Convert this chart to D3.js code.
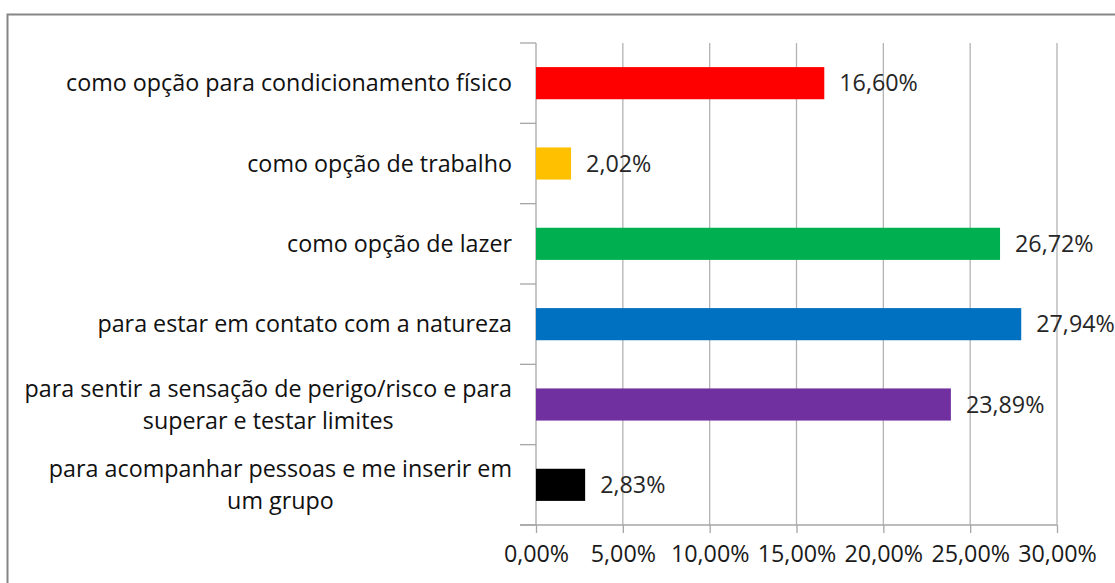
<!DOCTYPE html>
<html>
<head>
<meta charset="utf-8">
<script src="https://cdn.jsdelivr.net/npm/d3@7"></script>
<style>
  html, body { margin: 0; padding: 0; background: #fff; }
  svg { display: block; }
  text { font-family: "Open Sans", sans-serif; }
</style>
</head>
<body>
<svg width="1115" height="583"></svg>
<script>
// categories, top to bottom (lines split with "\n")
const categories = [
  "como opção para condicionamento físico",
  "como opção de trabalho",
  "como opção de lazer",
  "para estar em contato com a natureza",
  "para sentir a sensação de perigo/risco e para\nsuperar e testar limites",
  "para acompanhar pessoas e me inserir em\num grupo"
];
const values = [0.1660, 0.0202, 0.2672, 0.2794, 0.2389, 0.0283];
const colors = ["#ff0000", "#ffc000", "#00b050", "#0070c0", "#7030a0", "#000000"];
const tickValues = [0, 0.05, 0.10, 0.15, 0.20, 0.25, 0.30];

const svg = d3.select("svg");
const fmt = v => d3.format(".2f")(v * 100).replace(".", ",") + "%";
const fs = 23.3;

// outer chart frame (runs off the right/bottom of the picture)
svg.append("rect")
  .attr("x", 7.5).attr("y", 14.5).attr("width", 1200).attr("height", 700)
  .attr("fill", "none").attr("stroke", "#868686").attr("stroke-width", 2);

const x = d3.scaleLinear().domain([0, 0.30]).range([536, 1057]);
const y = d3.scaleBand().domain(categories).range([43, 525]).paddingInner(0.6).paddingOuter(0.3);
const step = y.step();

// vertical gridlines
svg.append("g").selectAll("line").data(tickValues.slice(1)).enter().append("line")
  .attr("x1", d => x(d)).attr("x2", d => x(d))
  .attr("y1", 43).attr("y2", 525)
  .attr("stroke", "#b3b3b3").attr("stroke-width", 1.3);

// x axis
const xAxis = svg.append("g").attr("transform", "translate(0,525)")
  .call(d3.axisBottom(x).tickValues(tickValues).tickFormat(fmt).tickSizeInner(8).tickSizeOuter(0).tickPadding(12));
xAxis.select(".domain").attr("stroke", "#a6a6a6").attr("stroke-width", 1.3).attr("d", "M520,0H1057");
xAxis.selectAll(".tick line").attr("stroke", "#a6a6a6").attr("stroke-width", 1.3);
xAxis.selectAll(".tick text").attr("font-size", fs).attr("fill", "#1a1a1a").attr("font-family", "Open Sans");

// category axis line + tick marks at band boundaries
svg.append("line").attr("x1", 536).attr("x2", 536).attr("y1", 43).attr("y2", 525)
  .attr("stroke", "#a6a6a6").attr("stroke-width", 1.3);
svg.append("g").selectAll("line").data(d3.range(categories.length + 1)).enter().append("line")
  .attr("x1", 520).attr("x2", 536)
  .attr("y1", i => 43 + i * step).attr("y2", i => 43 + i * step)
  .attr("stroke", "#a6a6a6").attr("stroke-width", 1.3);

// bars
svg.append("g").selectAll("rect").data(categories).enter().append("rect")
  .attr("x", x(0)).attr("y", d => y(d))
  .attr("width", (d, i) => x(values[i]) - x(0))
  .attr("height", y.bandwidth())
  .attr("fill", (d, i) => colors[i]);

// value labels
svg.append("g").selectAll("text").data(categories).enter().append("text")
  .attr("x", (d, i) => x(values[i]) + 15)
  .attr("y", d => y(d) + y.bandwidth() / 2)
  .attr("dy", "0.35em")
  .attr("font-size", fs).attr("fill", "#262626")
  .text((d, i) => fmt(values[i]));

// category labels, centred lines in a right-aligned block
const labelG = svg.append("g");
categories.forEach(c => {
  const lines = c.split("\n");
  const cy = y(c) + y.bandwidth() / 2;
  const lh = 32;
  const t = labelG.append("text").attr("font-size", fs).attr("fill", "#111");
  const spans = lines.map((ln, k) =>
    t.append("tspan").attr("x", 0)
      .attr("y", cy + (k - (lines.length - 1) / 2) * lh).attr("dy", "0.35em").text(ln));
  const w = d3.max(spans, s => s.node().getComputedTextLength());
  spans.forEach(s => s.attr("x", 512 - w / 2).attr("text-anchor", "middle"));
});
</script>
</body>
</html>
